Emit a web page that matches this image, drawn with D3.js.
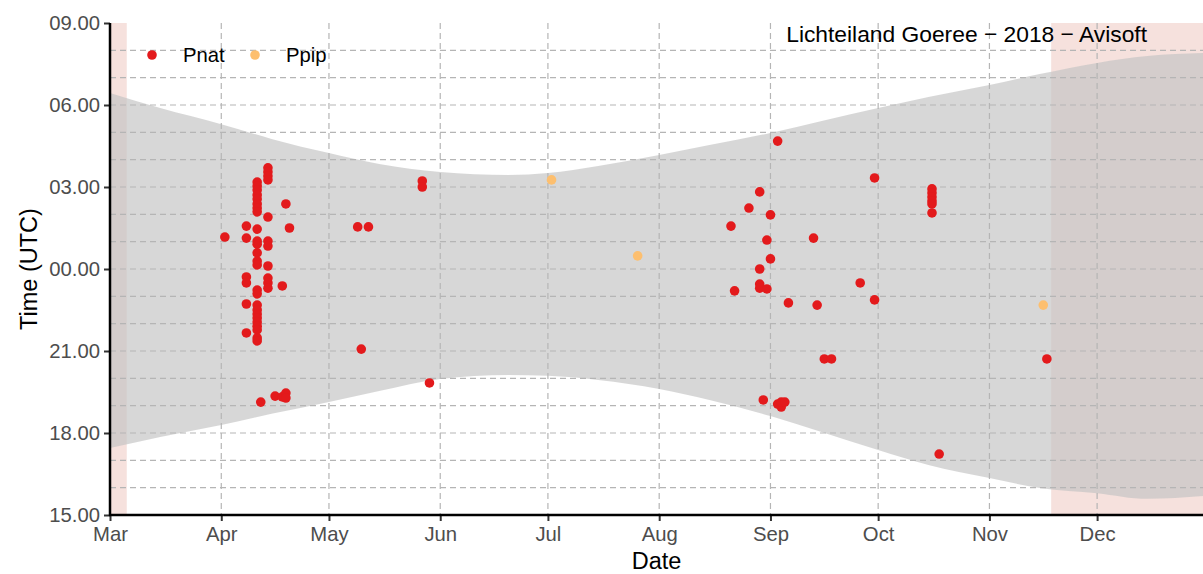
<!DOCTYPE html>
<html><head><meta charset="utf-8">
<script src="https://cdn.jsdelivr.net/npm/d3@7"></script>
<style>
html,body{margin:0;padding:0;background:#fff;}
svg text{font-family:"Liberation Sans",Arial,sans-serif;}
</style></head>
<body><svg id="chart" width="1203" height="574"></svg>
<script>
// ---- data ----
const species = ["Pnat", "Ppip"];
const speciesColors = ["#E31A1C", "#FDBF6F"];

const pnatDates = [
 "2018-04-02",
 "2018-04-08","2018-04-08","2018-04-08","2018-04-08","2018-04-08","2018-04-08",
 "2018-04-11","2018-04-11","2018-04-11","2018-04-11","2018-04-11","2018-04-11","2018-04-11","2018-04-11",
 "2018-04-11","2018-04-11","2018-04-11","2018-04-11","2018-04-11","2018-04-11","2018-04-11","2018-04-11",
 "2018-04-11","2018-04-11","2018-04-11","2018-04-11","2018-04-11","2018-04-11","2018-04-11","2018-04-11","2018-04-11",
 "2018-04-12",
 "2018-04-14","2018-04-14","2018-04-14","2018-04-14","2018-04-14","2018-04-14","2018-04-14","2018-04-14","2018-04-14","2018-04-14","2018-04-14",
 "2018-04-16",
 "2018-04-18","2018-04-18",
 "2018-04-19","2018-04-19","2018-04-19",
 "2018-04-20",
 "2018-05-09","2018-05-10","2018-05-12","2018-05-27","2018-05-27","2018-05-29",
 "2018-08-21","2018-08-22","2018-08-26",
 "2018-08-29","2018-08-29","2018-08-29","2018-08-29",
 "2018-08-30","2018-08-31","2018-08-31","2018-09-01","2018-09-01",
 "2018-09-03","2018-09-03","2018-09-04","2018-09-04","2018-09-05","2018-09-06",
 "2018-09-13","2018-09-14","2018-09-16","2018-09-18","2018-09-26","2018-09-30","2018-09-30",
 "2018-10-16","2018-10-16","2018-10-16","2018-10-16","2018-10-16","2018-10-16",
 "2018-10-18","2018-11-17"
];
const pnatTimes = [
 1.17,
 1.57,1.13,23.71,23.49,22.72,21.66,
 3.18,3.04,2.89,2.71,2.56,2.38,2.23,2.09,
 1.46,1.02,0.91,0.59,0.29,0.15,23.23,23.09,
 22.68,22.50,22.35,22.21,22.06,21.91,21.77,21.48,21.37,
 19.13,
 3.70,3.55,3.40,3.26,1.90,1.02,0.84,0.11,23.67,23.49,23.30,
 19.35,
 23.38,19.32,
 2.38,19.46,19.28,
 1.50,
 1.54,21.07,1.54,3.22,3.00,19.83,
 1.57,23.20,2.23,
 2.82,0.00,23.45,23.30,
 19.21,1.06,23.27,1.98,0.37,
 4.68,19.06,18.95,19.13,19.13,22.76,
 1.13,22.68,20.71,20.71,23.49,3.33,22.87,
 2.93,2.78,2.63,2.49,2.38,2.05,
 17.23,20.71
];
const ppipDates = ["2018-07-02","2018-07-26","2018-11-16"];
const ppipTimes = [3.26, 0.48, 22.68];

// night band (sunset -> sunrise)
const bandDates = ["2018-03-01","2018-03-15","2018-04-01","2018-04-15","2018-05-01","2018-05-15","2018-06-01","2018-06-20",
 "2018-07-01","2018-07-15","2018-08-01","2018-08-15","2018-09-01","2018-09-15","2018-10-01","2018-10-15",
 "2018-11-01","2018-11-15","2018-12-01","2018-12-15","2018-12-31"];
const sunsetHours  = [17.45,17.85,18.29,18.70,19.13,19.54,19.98,20.12,20.09,19.94,19.61,19.21,18.62,18.05,17.38,16.83,16.35,15.99,15.80,15.59,15.70];
const sunriseHours = [6.44,5.89,5.30,4.76,4.24,3.84,3.55,3.44,3.51,3.77,4.17,4.54,4.98,5.41,5.89,6.29,6.73,7.13,7.54,7.79,7.90];

// periods without recordings
const offStart = ["2018-03-01T00:00Z", "2018-11-18T05:00Z"];
const offEnd   = ["2018-03-05T16:00Z", "2018-12-31T00:00Z"];

const monthTicks = ["2018-03-01","2018-04-01","2018-05-01","2018-06-01","2018-07-01","2018-08-01","2018-09-01","2018-10-01","2018-11-01","2018-12-01"];
const monthLabels = ["Mar","Apr","May","Jun","Jul","Aug","Sep","Oct","Nov","Dec"];
const hourTicks = [15,18,21,24,27,30,33];
const hourLabels = ["15.00","18.00","21.00","00.00","03.00","06.00","09.00"];
const gridHours = [16,17,18,19,20,21,22,23,24,25,26,27,28,29,30,31,32];

const titleText = "Lichteiland Goeree \u2212 2018 \u2212 Avisoft";

// ---- drawing ----
const W = 1203, H = 574;
const L = 110, R = 1203, T = 23, B = 515;
const svg = d3.select("#chart");
const pd = s => new Date(s.length === 10 ? s + "T00:00Z" : s);
const x = d3.scaleUtc().domain([pd("2018-03-01"), pd("2018-12-30T12:00Z")]).range([L, R]);
const y = d3.scaleLinear().domain([15, 33]).range([B, T]);
const hh = h => (h < 15 ? h + 24 : h);

svg.append("defs").append("clipPath").attr("id","clip")
  .append("rect").attr("x",L).attr("y",T).attr("width",R-L).attr("height",B-T);
const panel = svg.append("g").attr("clip-path","url(#clip)");

// off-period rects
panel.selectAll("rect.off").data(offStart.map((s,i)=>({s:pd(s), e:pd(offEnd[i])}))).enter()
  .append("rect").attr("class","off")
  .attr("x", d=>x(d.s)).attr("width", d=>x(d.e)-x(d.s)+ (d.e>pd("2018-12-30")?20:0))
  .attr("y", T).attr("height", B-T).attr("fill", "#f6e1dd");

// night band
const band = bandDates.map((d,i)=>({d:pd(d), lo:sunsetHours[i], hi:sunriseHours[i]}));
const area = d3.area().curve(d3.curveMonotoneX)
  .x(d=>x(d.d)).y0(d=>y(hh(d.lo))).y1(d=>y(hh(d.hi)));
panel.append("path").datum(band).attr("d", area)
  .attr("fill", "rgb(196,196,196)").attr("fill-opacity", 0.67);

// grid
const gridCol = "#b5b5b5";
panel.selectAll("line.hg").data(gridHours).enter().append("line")
  .attr("x1", L).attr("x2", R).attr("y1", d=>y(d)).attr("y2", d=>y(d))
  .attr("stroke", gridCol).attr("stroke-width", 1.2).attr("stroke-dasharray","6,4");
panel.selectAll("line.vg").data(monthTicks.slice(1)).enter().append("line")
  .attr("x1", d=>x(pd(d))).attr("x2", d=>x(pd(d))).attr("y1", T).attr("y2", B)
  .attr("stroke", gridCol).attr("stroke-width", 1.2).attr("stroke-dasharray","6,4");

// points
const pts = pnatDates.map((d,i)=>({d:pd(d), t:pnatTimes[i], sp:0}))
  .concat(ppipDates.map((d,i)=>({d:pd(d), t:ppipTimes[i], sp:1})));
svg.selectAll("circle.pt").data(pts).enter().append("circle")
  .attr("cx", d=>x(d.d)).attr("cy", d=>y(hh(d.t))).attr("r", 4.8)
  .attr("fill", d=>speciesColors[d.sp]);

// axes
const yAxis = d3.axisLeft(y).tickValues(hourTicks).tickFormat((d,i)=>hourLabels[i]).tickSize(6).tickPadding(4);
const gy = svg.append("g").attr("transform", `translate(${L},0)`).call(yAxis);
const xAxis = d3.axisBottom(x).tickValues(monthTicks.map(pd)).tickFormat((d,i)=>monthLabels[i]).tickSize(6).tickPadding(5);
const gx = svg.append("g").attr("transform", `translate(0,${B})`).call(xAxis);
[gx, gy].forEach(g=>{
  g.select(".domain").remove();
  g.selectAll(".tick line").attr("stroke","#333").attr("stroke-width",2);
  g.selectAll(".tick text").attr("fill","#4d4d4d").style("font-size","20.3px");
});
gx.selectAll(".tick text").attr("dy","0.75em");
svg.append("line").attr("x1",L).attr("x2",L).attr("y1",T).attr("y2",B+1).attr("stroke","#000").attr("stroke-width",2.5);
svg.append("line").attr("x1",L-1).attr("x2",R).attr("y1",B).attr("y2",B).attr("stroke","#000").attr("stroke-width",2.5);

// axis titles
svg.append("text").attr("x", (L+R)/2).attr("y", 569).attr("text-anchor","middle")
  .style("font-size","23.5px").attr("fill","#000").text("Date");
svg.append("text").attr("transform", `translate(37,${(T+B)/2}) rotate(-90)`).attr("text-anchor","middle")
  .style("font-size","23.5px").attr("fill","#000").text("Time (UTC)");

// legend
const lg = svg.append("g");
const legX = [152, 255];
species.forEach((s,i)=>{
  lg.append("circle").attr("cx", legX[i]).attr("cy", 55).attr("r", 4.8).attr("fill", speciesColors[i]);
  lg.append("text").attr("x", legX[i]+31).attr("y", 62).style("font-size","20.3px").attr("fill","#000").text(s);
});

// annotation
svg.append("text").attr("x", 1147).attr("y", 42).attr("text-anchor","end")
  .style("font-size","22.8px").attr("fill","#000").text(titleText);
</script></body></html>
